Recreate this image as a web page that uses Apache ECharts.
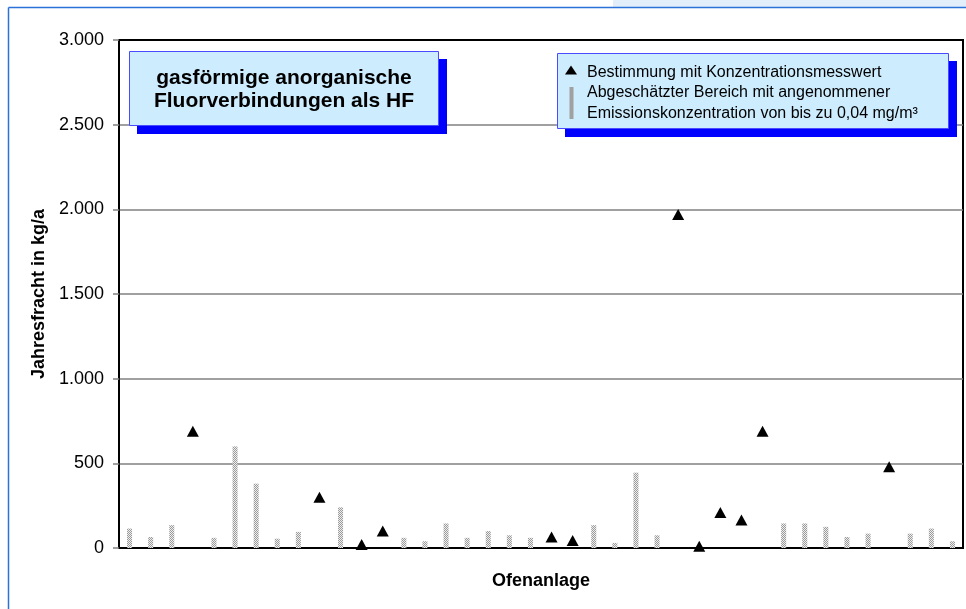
<!DOCTYPE html>
<html>
<head>
<meta charset="utf-8">
<script src="https://cdn.jsdelivr.net/npm/echarts@6/dist/echarts.min.js"></script>
<style>
  html, body { margin: 0; padding: 0; background: #ffffff; }
  #chart { width: 966px; height: 609px; }
</style>
</head>
<body>
<div id="chart"></div>
<script>
// Ofenanlagen (40 plants, unlabelled on the axis)
const ofenanlagen = ["1","2","3","4","5","6","7","8","9","10",
  "11","12","13","14","15","16","17","18","19","20",
  "21","22","23","24","25","26","27","28","29","30",
  "31","32","33","34","35","36","37","38","39","40"];

// Abgeschätzter Bereich (upper estimate, kg/a) – null where a measured value exists
const abgeschaetzt = [115, 65, 135, null, 60, 600, 380, 55, 95, null,
  240, null, null, 60, 40, 145, 60, 100, 75, 60,
  null, null, 135, 30, 445, 75, null, null, null, null,
  null, 145, 145, 125, 65, 85, null, 85, 115, 40];

// Bestimmung mit Konzentrationsmesswert (kg/a)
const gemessen = [null, null, null, 690, null, null, null, null, null, 300,
  null, 20, 100, null, null, null, null, null, null, null,
  65, 45, null, null, null, null, 1970, 10, 210, 165,
  690, null, null, null, null, null, 480, null, null, null];

// y-axis ticks
const yTicks = [0, 500, 1000, 1500, 2000, 2500, 3000];

const titelZeilen = ["gasförmige anorganische", "Fluorverbindungen als HF"];
const legendeMessung = "Bestimmung mit Konzentrationsmesswert";
const legendeBereich = ["Abgeschätzter Bereich mit angenommener", "Emissionskonzentration von bis zu 0,04 mg/m³"];

const FONT = "'Liberation Sans', Arial, sans-serif";

function fmtDe(v) {
  return String(v).replace(/\B(?=(\d{3})+(?!\d))/g, '.');
}

// dotted grey fill for the estimated-range bars
function dotPattern() {
  const c = document.createElement('canvas');
  c.width = 2; c.height = 2;
  const g = c.getContext('2d');
  g.fillStyle = '#eeeeee'; g.fillRect(0, 0, 2, 2);
  g.fillStyle = '#9a9a9a';
  g.fillRect(0, 0, 1, 1);
  g.fillRect(1, 1, 1, 1);
  return c;
}

const chart = echarts.init(document.getElementById('chart'), null, { renderer: 'canvas' });

const boxFill = '#cdecfe';
const boxStroke = '#4a4aff';
const shadowFill = '#0000ff';

chart.setOption({
  animation: false,
  backgroundColor: '#ffffff',
  grid: {
    left: 119, top: 40, width: 844, height: 508,
    show: true, borderColor: '#000000', borderWidth: 2,
    backgroundColor: 'transparent'
  },
  xAxis: {
    type: 'category',
    data: ofenanlagen,
    name: 'Ofenanlage',
    nameLocation: 'middle',
    nameGap: 24,
    nameTextStyle: { fontFamily: FONT, fontWeight: 'bold', fontSize: 18, color: '#000' },
    axisLine: { show: true, lineStyle: { color: '#000', width: 2 } },
    axisTick: { show: false },
    axisLabel: { show: false },
    splitLine: { show: false }
  },
  yAxis: {
    type: 'value',
    min: yTicks[0],
    max: yTicks[yTicks.length - 1],
    interval: yTicks[1] - yTicks[0],
    name: 'Jahresfracht in kg/a',
    nameLocation: 'middle',
    nameGap: 70,
    nameTextStyle: { fontFamily: FONT, fontWeight: 'bold', fontSize: 18, color: '#000' },
    axisLine: { show: true, lineStyle: { color: '#000', width: 1.5 } },
    axisTick: { show: true, inside: false, length: 6, lineStyle: { color: '#808080', width: 1.5 } },
    axisLabel: {
      margin: 15, fontFamily: FONT, fontSize: 18, color: '#000',
      formatter: v => fmtDe(v)
    },
    splitLine: { show: true, showMinLine: false, showMaxLine: false, lineStyle: { color: '#808080', width: 1.5 } }
  },
  series: [
    {
      name: legendeBereich.join(' '),
      type: 'bar',
      data: abgeschaetzt,
      barWidth: 5,
      itemStyle: { color: { image: dotPattern(), repeat: 'repeat' } },
      z: 2
    },
    {
      name: legendeMessung,
      type: 'scatter',
      data: gemessen,
      symbol: 'triangle',
      symbolSize: [12, 11],
      itemStyle: { color: '#000000', opacity: 1 },
      z: 3
    }
  ],
  graphic: [
    // outer frame
    { type: 'rect', shape: { x: 613, y: 0, width: 353, height: 7 }, style: { fill: '#e3eefb' }, silent: true },
    { type: 'line', shape: { x1: 8.5, y1: 7.5, x2: 966, y2: 7.5 }, style: { stroke: '#2a72d8', lineWidth: 1.5 }, silent: true },
    { type: 'line', shape: { x1: 8.5, y1: 7.5, x2: 8.5, y2: 609 }, style: { stroke: '#2a72d8', lineWidth: 1.5 }, silent: true },

    // title box
    { type: 'rect', shape: { x: 137, y: 59, width: 310, height: 75 }, style: { fill: shadowFill }, z: 10 },
    { type: 'rect', shape: { x: 129.5, y: 51.5, width: 309, height: 74 }, style: { fill: boxFill, stroke: boxStroke, lineWidth: 1 }, z: 11 },
    { type: 'text', x: 284, y: 78, z: 12,
      style: { text: titelZeilen[0], font: "bold 21px " + FONT, fill: '#000', align: 'center', verticalAlign: 'middle' } },
    { type: 'text', x: 284, y: 101, z: 12,
      style: { text: titelZeilen[1], font: "bold 21px " + FONT, fill: '#000', align: 'center', verticalAlign: 'middle' } },

    // legend box
    { type: 'rect', shape: { x: 565, y: 61, width: 392, height: 76 }, style: { fill: shadowFill }, z: 10 },
    { type: 'rect', shape: { x: 557.5, y: 53.5, width: 391, height: 75 }, style: { fill: boxFill, stroke: boxStroke, lineWidth: 1 }, z: 11 },
    { type: 'polygon', shape: { points: [[571, 65.5], [577, 74.5], [565, 74.5]] }, style: { fill: '#000' }, z: 12 },
    { type: 'rect', shape: { x: 569.5, y: 87, width: 4, height: 32 }, style: { fill: '#a0a0a0' }, z: 12 },
    { type: 'text', x: 587, y: 72.5, z: 12,
      style: { text: legendeMessung, font: "16px " + FONT, fill: '#000', align: 'left', verticalAlign: 'middle' } },
    { type: 'text', x: 587, y: 93, z: 12,
      style: { text: legendeBereich[0], font: "16px " + FONT, fill: '#000', align: 'left', verticalAlign: 'middle' } },
    { type: 'text', x: 587, y: 113.5, z: 12,
      style: { text: legendeBereich[1], font: "16px " + FONT, fill: '#000', align: 'left', verticalAlign: 'middle' } }
  ]
});
</script>
</body>
</html>
